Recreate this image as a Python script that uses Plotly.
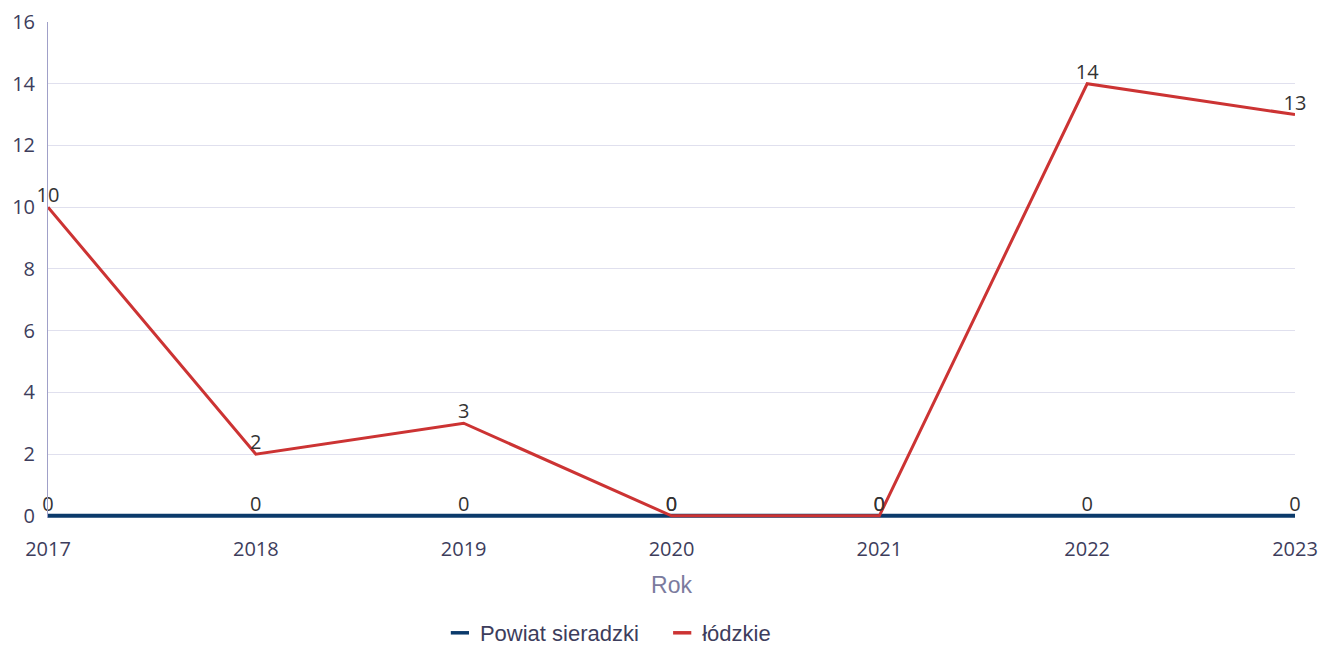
import plotly.graph_objects as go

years = [2017, 2018, 2019, 2020, 2021, 2022, 2023]
powiat = [0, 0, 0, 0, 0, 0, 0]
lodzkie = [10, 2, 3, 0, 0, 14, 13]
names = ["Powiat sieradzki", "łódzkie"]
colors = ["#0b3a6b", "#cc3333"]

fig = go.Figure()
for vals, name, col, w in [(powiat, names[0], colors[0], 4), (lodzkie, names[1], colors[1], 3)]:
    fig.add_trace(go.Scatter(
        x=years, y=vals, mode="lines+text", name=name,
        line=dict(color=col, width=w),
        text=[str(v) for v in vals], textposition="top center",
        textfont=dict(family="Open Sans", size=20, color="#333333"),
        showlegend=False, cliponaxis=False,
    ))
for i, (name, col) in enumerate(zip(names, colors)):
    fig.add_trace(go.Scatter(
        x=[None], y=[None], mode="markers",
        name=name + ("\u00a0" * 3 if i == 0 else ""),
        marker=dict(symbol="line-ew", size=13, line=dict(color=col, width=3.5)),
        showlegend=True,
    ))

fig.update_layout(
    width=1319, height=645,
    margin=dict(l=48, r=24, t=22, b=127),
    plot_bgcolor="white", paper_bgcolor="white",
    legend=dict(orientation="h", x=0.449, xanchor="center", yref="container", y=0.0186, yanchor="middle",
                font=dict(family="Liberation Sans", size=22, color="#3d3d5c"),
                itemwidth=30),
    xaxis=dict(
        range=[2017, 2023], tickvals=years, ticktext=[str(y) for y in years],
        showgrid=False, zeroline=False, showline=False, automargin=False,
        ticks="outside", ticklen=13, tickcolor="rgba(0,0,0,0)",
        tickfont=dict(family="Open Sans", size=20, color="#3d3d5c"),
        title=dict(text="Rok", font=dict(family="Liberation Sans", size=23, color="#7b7b9e"), standoff=15),
    ),
    yaxis=dict(
        range=[-0.07, 16], tick0=0, dtick=2, showgrid=True, gridcolor="#e0e0ee",
        zeroline=False, showline=True, linecolor="#a0a0c8", linewidth=1, automargin=False,
        ticks="outside", ticklen=8, tickcolor="rgba(0,0,0,0)",
        tickfont=dict(family="Open Sans", size=20, color="#3d3d5c"),
    ),
)
fig.write_html("out.html", config={"displayModeBar": False},
               post_script="document.body.style.margin='0';document.body.style.overflow='hidden';")
